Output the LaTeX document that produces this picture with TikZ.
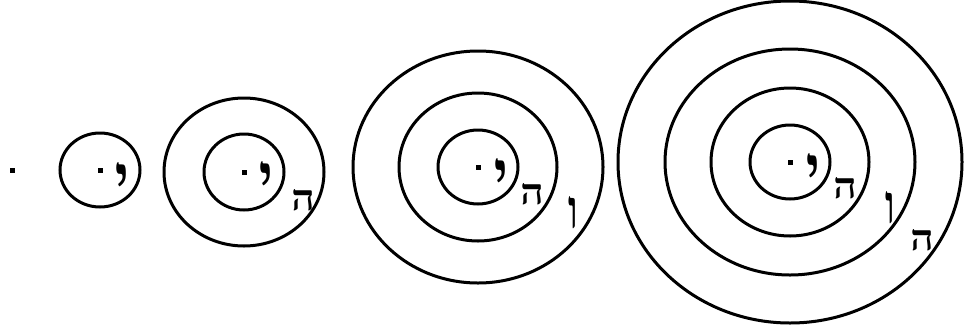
\documentclass[tikz,border=0pt]{standalone}
\usepackage{fontspec}
\newfontfamily\hebfont[Script=Hebrew]{Liberation Serif}
\TeXXeTstate=1
\tikzset{
  ring/.style={draw=black,line width=3pt},
  pip/.style={fill=black,minimum size=5pt,inner sep=0pt},
  glyph/.style={font=\hebfont\bfseries\fontsize{34}{34}\selectfont,inner sep=0pt},
  heglyph/.style={glyph,xscale=1.2,yscale=1.05},
  yodglyph/.style={glyph,xscale=1.5,yscale=2},
  vavglyph/.style={glyph,xscale=1.1,yscale=1.6},
}
\begin{document}
\begin{tikzpicture}[x=1pt,y=-1pt]
  \useasboundingbox (0,0) rectangle (964,330);
  % lone point
  \node[pip] (p0) at (12,170) {};

  % first stage
  \node[pip] (p1) at (100,170) {};
  \draw[ring] (p1) ellipse[x radius=40,y radius=37];
  \node[yodglyph] (yod1) at (122,183) {\beginR י\endR};

  % second stage
  \node[pip] (p2) at (244,172) {};
  \draw[ring] (p2) ellipse[x radius=40,y radius=38];
  \draw[ring] (p2) ellipse[x radius=80,y radius=74];
  \node[yodglyph] (yod2) at (266,182) {\beginR י\endR};
  \node[heglyph] (he2) at (303,200) {\beginR ה\endR};

  % third stage
  \node[pip] (p3) at (478,167) {};
  \draw[ring] (p3) ellipse[x radius=40,y radius=37];
  \draw[ring] (p3) ellipse[x radius=79,y radius=74];
  \draw[ring] (p3) ellipse[x radius=125,y radius=116];
  \node[yodglyph] (yod3) at (501,179) {\beginR י\endR};
  \node[heglyph] (he3) at (532,194) {\beginR ה\endR};
  \node[vavglyph] (vav3) at (573,213) {\beginR ו\endR};

  % fourth stage
  \node[pip] (p4) at (790,162) {};
  \draw[ring] (p4) ellipse[x radius=40,y radius=37];
  \draw[ring] (p4) ellipse[x radius=79,y radius=74];
  \draw[ring] (p4) ellipse[x radius=125,y radius=113];
  \draw[ring] (p4) ellipse[x radius=172,y radius=161];
  \node[yodglyph] (yod4) at (813,174) {\beginR י\endR};
  \node[heglyph] (he4) at (845,188) {\beginR ה\endR};
  \node[vavglyph] (vav4) at (890,208) {\beginR ו\endR};
  \node[heglyph] (he4b) at (922,240) {\beginR ה\endR};
\end{tikzpicture}
\end{document}
